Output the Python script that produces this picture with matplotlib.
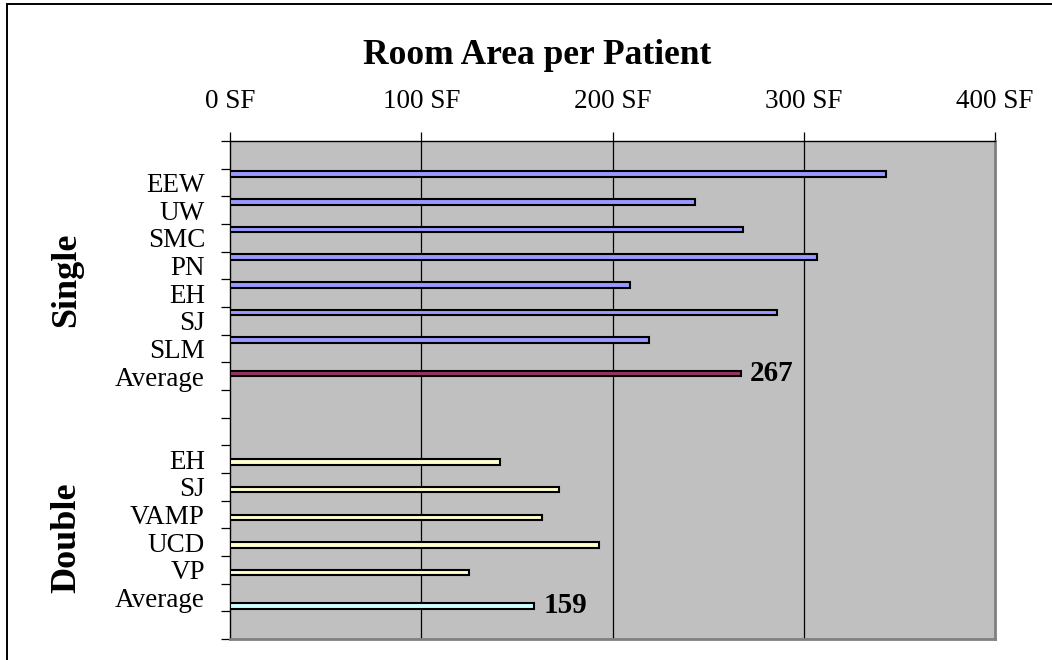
import numpy as np
import matplotlib
matplotlib.use('Agg')
from matplotlib import pyplot as plt
from matplotlib.patches import Rectangle

plt.rcParams['font.family'] = ['Liberation Serif', 'DejaVu Serif']

# room area per patient, square feet
single_names = ['EEW', 'UW', 'SMC', 'PN', 'EH', 'SJ', 'SLM']
single_area = [343, 243, 268, 307, 209, 286, 219]
single_avg = 267

double_names = ['EH', 'SJ', 'VAMP', 'UCD', 'VP']
double_area = [141, 172, 163, 193, 125]
double_avg = 159

x_ticks = [0, 100, 200, 300, 400]
x_labels = ['%d SF' % v for v in x_ticks]

# category rows top to bottom, blank rows pad the two groups
rows = [''] + single_names + ['Average', '', ''] + double_names + ['Average', '']
i_single = [1 + k for k in range(len(single_names))]
i_single_avg = 1 + len(single_names)
i_double = [i_single_avg + 3 + k for k in range(len(double_names))]
i_double_avg = i_double[-1] + 1

# four series side by side in each row, only one of them filled
bar_h = 0.2
offsets = [-0.3, -0.1, 0.1, 0.3]
colors = ['#9999FF', '#993366', '#FFFFCC', '#CCFFFF']

fig = plt.figure(figsize=(10.52, 6.6), dpi=100)
ax = fig.add_axes([230 / 1052, 1 - 639 / 660, 765 / 1052, 498 / 660])
ax.set_facecolor('#C0C0C0')

kw = dict(height=bar_h, edgecolor='black', linewidth=1.5, zorder=3)
ax.barh(np.array(i_single) + offsets[0], single_area, color=colors[0], **kw)
ax.barh([i_single_avg + offsets[1]], [single_avg], color=colors[1], **kw)
ax.barh(np.array(i_double) + offsets[2], double_area, color=colors[2], **kw)
ax.barh([i_double_avg + offsets[3]], [double_avg], color=colors[3], **kw)

ax.text(single_avg + 5, i_single_avg + offsets[1], str(single_avg), fontsize=21,
        fontweight='bold', va='center', ha='left', zorder=4)
ax.text(double_avg + 5, i_double_avg + offsets[3], str(double_avg), fontsize=21,
        fontweight='bold', va='center', ha='left', zorder=4)

ax.set_xlim(0, 400)
ax.set_ylim(len(rows) - 0.5, -0.5)

for v in x_ticks[1:-1]:
    ax.axvline(v, color='black', linewidth=0.9, zorder=1)

ax.xaxis.tick_top()
ax.set_xticks(x_ticks)
ax.set_xticklabels(x_labels, fontsize=19.5)
ax.tick_params(axis='x', direction='out', length=6.5, width=0.9, pad=13)

ax.set_yticks(range(len(rows)))
ax.set_yticklabels(rows, fontsize=19.5)
ax.set_yticks(np.arange(len(rows) + 1) - 0.5, minor=True)
ax.tick_params(axis='y', which='major', length=0, pad=18)
ax.tick_params(axis='y', which='minor', direction='out', length=6.5, width=0.9)

for side in ['left', 'top']:
    ax.spines[side].set_color('black')
    ax.spines[side].set_linewidth(1.0)
for side in ['right', 'bottom']:
    ax.spines[side].set_color('#808080')
    ax.spines[side].set_linewidth(2.0)

# group captions beside the category labels
tr = ax.get_yaxis_transform()
ax.text(-0.213, np.mean(i_single + [i_single_avg]), 'Single', transform=tr,
        rotation=90, fontsize=26, fontweight='bold', ha='center', va='center')
ax.text(-0.213, np.mean(i_double + [i_double_avg]) + 0.35, 'Double', transform=tr,
        rotation=90, fontsize=26, fontweight='bold', ha='center', va='center')

fig.text(537 / 1052, 1 - 55 / 660, 'Room Area per Patient', fontsize=25.5,
         fontweight='bold', ha='center', va='center')

# chart frame
fig.patches.append(Rectangle((7 / 1052, -0.1), 1.2, 1.1 - 3.5 / 660,
                             transform=fig.transFigure, fill=False,
                             edgecolor='black', linewidth=1.4))

fig.savefig('out.png', dpi=100)
